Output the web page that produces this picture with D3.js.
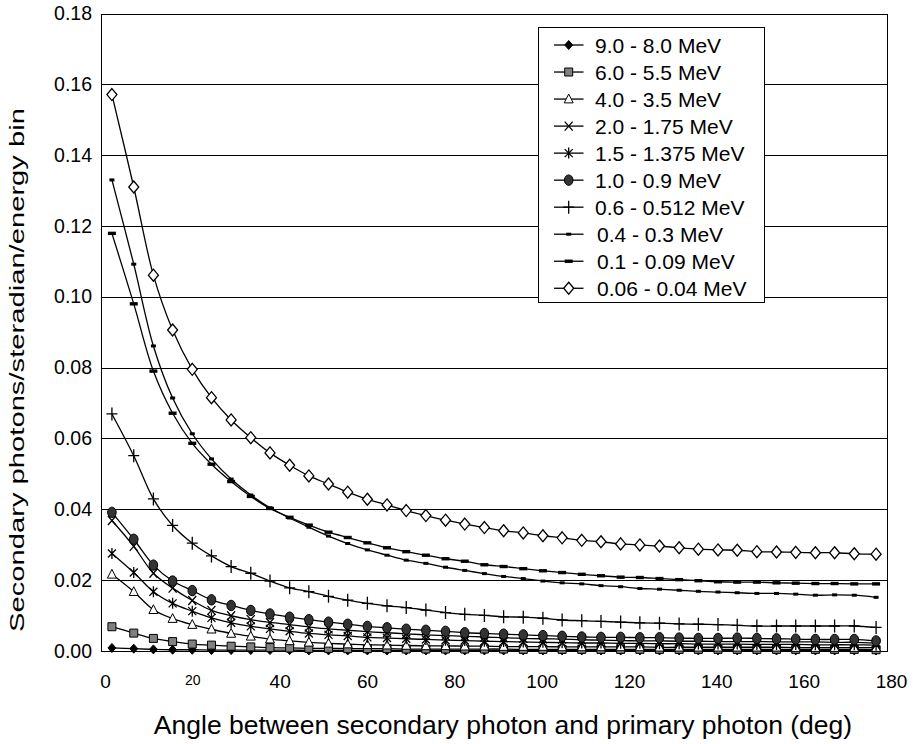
<!DOCTYPE html>
<html>
<head>
<meta charset="utf-8">
<script src="https://cdn.jsdelivr.net/npm/d3@7/dist/d3.min.js"></script>
<style>
  html, body { margin: 0; padding: 0; background: #fff; }
  svg { display: block; font-family: "Liberation Sans", Arial, sans-serif; }
</style>
</head>
<body>
<svg id="chart" width="913" height="744"></svg>
<script>
// ---------- data ----------
const angles = [2.5, 7.5, 12.0, 16.4, 20.9, 25.3, 29.8, 34.3, 38.7, 43.2,
  47.6, 52.1, 56.5, 61.0, 65.5, 69.9, 74.4, 78.9, 83.3, 87.8,
  92.2, 96.7, 101.2, 105.6, 110.1, 114.5, 119.0, 123.4, 127.9, 132.4,
  136.8, 141.3, 145.7, 150.2, 154.7, 159.1, 163.6, 168.0, 172.5, 177.5];

const seriesNames = ["9.0 - 8.0 MeV", "6.0 - 5.5 MeV", "4.0 - 3.5 MeV", "2.0 - 1.75 MeV",
  "1.5 - 1.375 MeV", "1.0 - 0.9 MeV", "0.6 - 0.512 MeV", "0.4 - 0.3 MeV",
  "0.1 - 0.09 MeV", "0.06 - 0.04 MeV"];

const e9_8 = [0.0008, 0.0006, 0.0004, 0.0003, 0.0003, 0.0002, 0.0002, 0.0002, 0.0002, 0.0002,
  0.0001, 0.0001, 0.0001, 0.0001, 0.0001, 0.0001, 0.0001, 0.0001, 0.0001, 0.0001,
  0.0001, 0.0001, 0.0001, 0.0001, 0.0001, 0.0001, 0.0001, 0.0001, 0.0001, 0.0001,
  0.0001, 0.0001, 0.0001, 0.0001, 0.0001, 0.0001, 0.0001, 0.0001, 0.0001, 0.0001];
const e6_55 = [0.0068, 0.0050, 0.0035, 0.0026, 0.0019, 0.0016, 0.0013, 0.0011, 0.0009, 0.0008,
  0.0007, 0.0007, 0.0006, 0.0006, 0.0006, 0.0005, 0.0005, 0.0005, 0.0005, 0.0005,
  0.0005, 0.0004, 0.0004, 0.0004, 0.0004, 0.0004, 0.0004, 0.0004, 0.0004, 0.0004,
  0.0004, 0.0004, 0.0004, 0.0004, 0.0004, 0.0004, 0.0004, 0.0004, 0.0004, 0.0003];
const e4_35 = [0.0216, 0.0167, 0.0116, 0.0091, 0.0074, 0.0061, 0.0049, 0.0041, 0.0033, 0.0028,
  0.0024, 0.0021, 0.0019, 0.0017, 0.0016, 0.0015, 0.0014, 0.0014, 0.0013, 0.0013,
  0.0012, 0.0012, 0.0012, 0.0011, 0.0011, 0.0011, 0.0011, 0.0011, 0.0010, 0.0010,
  0.0010, 0.0010, 0.0010, 0.0010, 0.0010, 0.0009, 0.0009, 0.0009, 0.0009, 0.0009];
const e2_175 = [0.0368, 0.0295, 0.0219, 0.0177, 0.0142, 0.0114, 0.0099, 0.0088, 0.0080, 0.0074,
  0.0067, 0.0062, 0.0058, 0.0054, 0.0051, 0.0048, 0.0045, 0.0043, 0.0041, 0.0039,
  0.0037, 0.0035, 0.0034, 0.0033, 0.0031, 0.0030, 0.0029, 0.0028, 0.0028, 0.0027,
  0.0027, 0.0026, 0.0026, 0.0026, 0.0025, 0.0025, 0.0025, 0.0024, 0.0024, 0.0022];
const e15_1375 = [0.0275, 0.0221, 0.0167, 0.0134, 0.0112, 0.0093, 0.0079, 0.0069, 0.0062, 0.0055,
  0.0049, 0.0045, 0.0042, 0.0038, 0.0036, 0.0034, 0.0032, 0.0030, 0.0029, 0.0027,
  0.0026, 0.0025, 0.0024, 0.0023, 0.0022, 0.0022, 0.0021, 0.0021, 0.0020, 0.0020,
  0.0019, 0.0019, 0.0019, 0.0018, 0.0018, 0.0018, 0.0017, 0.0017, 0.0017, 0.0016];
const e10_09 = [0.0391, 0.0315, 0.0242, 0.0197, 0.0170, 0.0144, 0.0128, 0.0114, 0.0104, 0.0095,
  0.0088, 0.0081, 0.0075, 0.0069, 0.0065, 0.0061, 0.0058, 0.0055, 0.0051, 0.0049,
  0.0047, 0.0045, 0.0043, 0.0041, 0.0039, 0.0038, 0.0038, 0.0037, 0.0037, 0.0036,
  0.0035, 0.0035, 0.0036, 0.0035, 0.0034, 0.0033, 0.0032, 0.0032, 0.0032, 0.0028];
const e06_0512 = [0.0669, 0.0551, 0.0429, 0.0354, 0.0304, 0.0268, 0.0238, 0.0219, 0.0197, 0.0178,
  0.0167, 0.0154, 0.0143, 0.0134, 0.0127, 0.0122, 0.0115, 0.0108, 0.0103, 0.0100,
  0.0096, 0.0095, 0.0092, 0.0087, 0.0085, 0.0083, 0.0081, 0.0079, 0.0078, 0.0076,
  0.0075, 0.0074, 0.0072, 0.0070, 0.0070, 0.0070, 0.0070, 0.0070, 0.0070, 0.0066];
const e04_03 = [0.1330, 0.1092, 0.0861, 0.0714, 0.0613, 0.0542, 0.0485, 0.0440, 0.0404, 0.0375,
  0.0349, 0.0324, 0.0303, 0.0285, 0.0270, 0.0256, 0.0247, 0.0236, 0.0227, 0.0218,
  0.0210, 0.0204, 0.0197, 0.0192, 0.0189, 0.0184, 0.0181, 0.0176, 0.0174, 0.0171,
  0.0168, 0.0166, 0.0164, 0.0162, 0.0162, 0.0160, 0.0157, 0.0158, 0.0157, 0.0151];
const e01_009 = [0.1179, 0.0980, 0.0790, 0.0671, 0.0586, 0.0527, 0.0478, 0.0436, 0.0402, 0.0377,
  0.0355, 0.0335, 0.0320, 0.0305, 0.0291, 0.0280, 0.0270, 0.0260, 0.0253, 0.0243,
  0.0238, 0.0232, 0.0226, 0.0221, 0.0216, 0.0212, 0.0208, 0.0207, 0.0204, 0.0201,
  0.0198, 0.0195, 0.0194, 0.0194, 0.0192, 0.0191, 0.0190, 0.0190, 0.0189, 0.0189];
const e006_004 = [0.1571, 0.1310, 0.1061, 0.0906, 0.0795, 0.0715, 0.0652, 0.0602, 0.0559, 0.0524,
  0.0494, 0.0471, 0.0448, 0.0428, 0.0412, 0.0396, 0.0382, 0.0369, 0.0358, 0.0348,
  0.0339, 0.0333, 0.0325, 0.0319, 0.0312, 0.0308, 0.0302, 0.0299, 0.0296, 0.0291,
  0.0287, 0.0285, 0.0284, 0.0280, 0.0279, 0.0278, 0.0277, 0.0277, 0.0274, 0.0273];

const xTicks = [0, 20, 40, 60, 80, 100, 120, 140, 160, 180];
const yTicks = [0, 0.02, 0.04, 0.06, 0.08, 0.10, 0.12, 0.14, 0.16, 0.18];
const xTitle = "Angle between secondary photon and primary photon (deg)";
const yTitle = "Secondary photons/steradian/energy bin";

// ---------- layout ----------
const svg = d3.select("#chart");
const plot = { left: 101, top: 13.5, right: 887, bottom: 650.8 };

const x = d3.scaleLinear().domain([0, 180]).range([plot.left, plot.right]);
const y = d3.scaleLinear().domain([0, 0.18]).range([plot.bottom, plot.top]);

// marker shapes (local coordinates around the point)
const markerDefs = [
  { kind: "path", d: "M0,-4.5L4,0L0,4.5L-4,0Z", fill: "#000", stroke: "#000", sw: 1 },
  { kind: "path", d: "M-4,-4H4V4H-4Z", fill: "#808080", stroke: "#000", sw: 1 },
  { kind: "path", d: "M0,-5L4.5,3.8L-4.5,3.8Z", fill: "#fff", stroke: "#000", sw: 1 },
  { kind: "path", d: "M-4,-4.5L4,4.5M-4,4.5L4,-4.5", fill: "none", stroke: "#000", sw: 1.3 },
  { kind: "path", d: "M-4,-4L4,4M-4,4L4,-4M0,-5.5V5.5", fill: "none", stroke: "#000", sw: 1.3 },
  { kind: "ellipse", rx: 4.3, ry: 5.2, fill: "#333", stroke: "#000", sw: 1 },
  { kind: "path", d: "M-5.5,0H5.5M0,-6.5V6.5", fill: "none", stroke: "#000", sw: 1.3 },
  { kind: "path", d: "M-2.5,-1.5H2.5V1.5H-2.5Z", fill: "#000", stroke: "none", sw: 0 },
  { kind: "path", d: "M-4,-1.7H4V1.7H-4Z", fill: "#000", stroke: "none", sw: 0 },
  { kind: "path", d: "M0,-6L5,0L0,6L-5,0Z", fill: "#fff", stroke: "#000", sw: 1.3 }
];

const seriesValues = [e9_8, e6_55, e4_35, e2_175, e15_1375, e10_09, e06_0512, e04_03, e01_009, e006_004];
const series = seriesNames.map((name, i) => ({
  name,
  marker: markerDefs[i],
  points: angles.map((a, j) => ({ a, v: seriesValues[i][j] }))
}));

// grid lines
svg.append("g").selectAll("line").data(yTicks.slice(1)).join("line")
  .attr("x1", plot.left).attr("x2", plot.right)
  .attr("y1", d => Math.round(y(d)) + 0.5).attr("y2", d => Math.round(y(d)) + 0.5)
  .attr("stroke", "#000").attr("stroke-width", 1);

// plot frame
svg.append("rect")
  .attr("x", plot.left + 0.5).attr("y", Math.round(plot.top) + 0.5)
  .attr("width", plot.right - plot.left).attr("height", Math.round(plot.bottom) - Math.round(plot.top))
  .attr("fill", "none").attr("stroke", "#000").attr("stroke-width", 1);

// y axis (labels only)
const yAxis = d3.axisLeft(y).tickValues(yTicks).tickFormat(d3.format(".2f")).tickSize(0).tickPadding(9);
const gy = svg.append("g").attr("transform", `translate(${plot.left},0)`).call(yAxis);
gy.select(".domain").remove();
gy.selectAll("text").attr("font-size", 19.5).attr("font-family", "Liberation Sans, Arial, sans-serif").attr("fill", "#000");

// x axis (labels only)
const xAxis = d3.axisBottom(x).tickValues(xTicks).tickFormat(d3.format("d")).tickSize(0).tickPadding(24);
const gx = svg.append("g").attr("transform", `translate(4,${plot.bottom})`).call(xAxis);
gx.select(".domain").remove();
gx.selectAll("text").attr("font-size", d => d === 20 ? 14 : 19)
  .attr("font-family", "Liberation Sans, Arial, sans-serif").attr("fill", "#000");

// lines
const line = d3.line().x(d => x(d.a)).y(d => y(d.v)).curve(d3.curveCatmullRom.alpha(0.5));
const gs = svg.append("g");
series.forEach(s => {
  gs.append("path").attr("d", line(s.points)).attr("fill", "none")
    .attr("stroke", "#000").attr("stroke-width", 1.3);
});

function drawMarker(g, m) {
  if (m.kind === "ellipse") {
    g.append("ellipse").attr("rx", m.rx).attr("ry", m.ry)
      .attr("fill", m.fill).attr("stroke", m.stroke).attr("stroke-width", m.sw);
  } else {
    g.append("path").attr("d", m.d).attr("fill", m.fill)
      .attr("stroke", m.stroke).attr("stroke-width", m.sw);
  }
}

series.forEach(s => {
  s.points.forEach(p => {
    const g = gs.append("g").attr("transform", `translate(${x(p.a)},${y(p.v)})`);
    drawMarker(g, s.marker);
  });
});

// legend
const lg = { x: 538.5, y: 27.5, w: 226, h: 275, row0: 45, step: 27.03 };
const legend = svg.append("g");
legend.append("rect").attr("x", lg.x).attr("y", lg.y).attr("width", lg.w).attr("height", lg.h)
  .attr("fill", "#fff").attr("stroke", "#000").attr("stroke-width", 1);
series.forEach((s, i) => {
  const cy = lg.row0 + i * lg.step;
  const g = legend.append("g");
  g.append("line").attr("x1", 554).attr("x2", 583.5).attr("y1", cy).attr("y2", cy)
    .attr("stroke", "#000").attr("stroke-width", 1.3);
  drawMarker(g.append("g").attr("transform", `translate(568.7,${cy})`), s.marker);
  g.append("text").attr("x", i >= 7 ? 597 : 595).attr("y", cy).attr("dy", "0.36em")
    .attr("font-size", 21).attr("fill", "#000").text(s.name);
});

// axis titles
svg.append("text").attr("x", 503).attr("y", 734).attr("text-anchor", "middle")
  .attr("font-size", 26.5).attr("fill", "#000").text(xTitle);
svg.append("text").attr("transform", "translate(24,370) rotate(-90)").attr("text-anchor", "middle")
  .attr("font-size", 20).attr("textLength", 524).attr("lengthAdjust", "spacingAndGlyphs")
  .attr("fill", "#000").text(yTitle);
</script>
</body>
</html>
